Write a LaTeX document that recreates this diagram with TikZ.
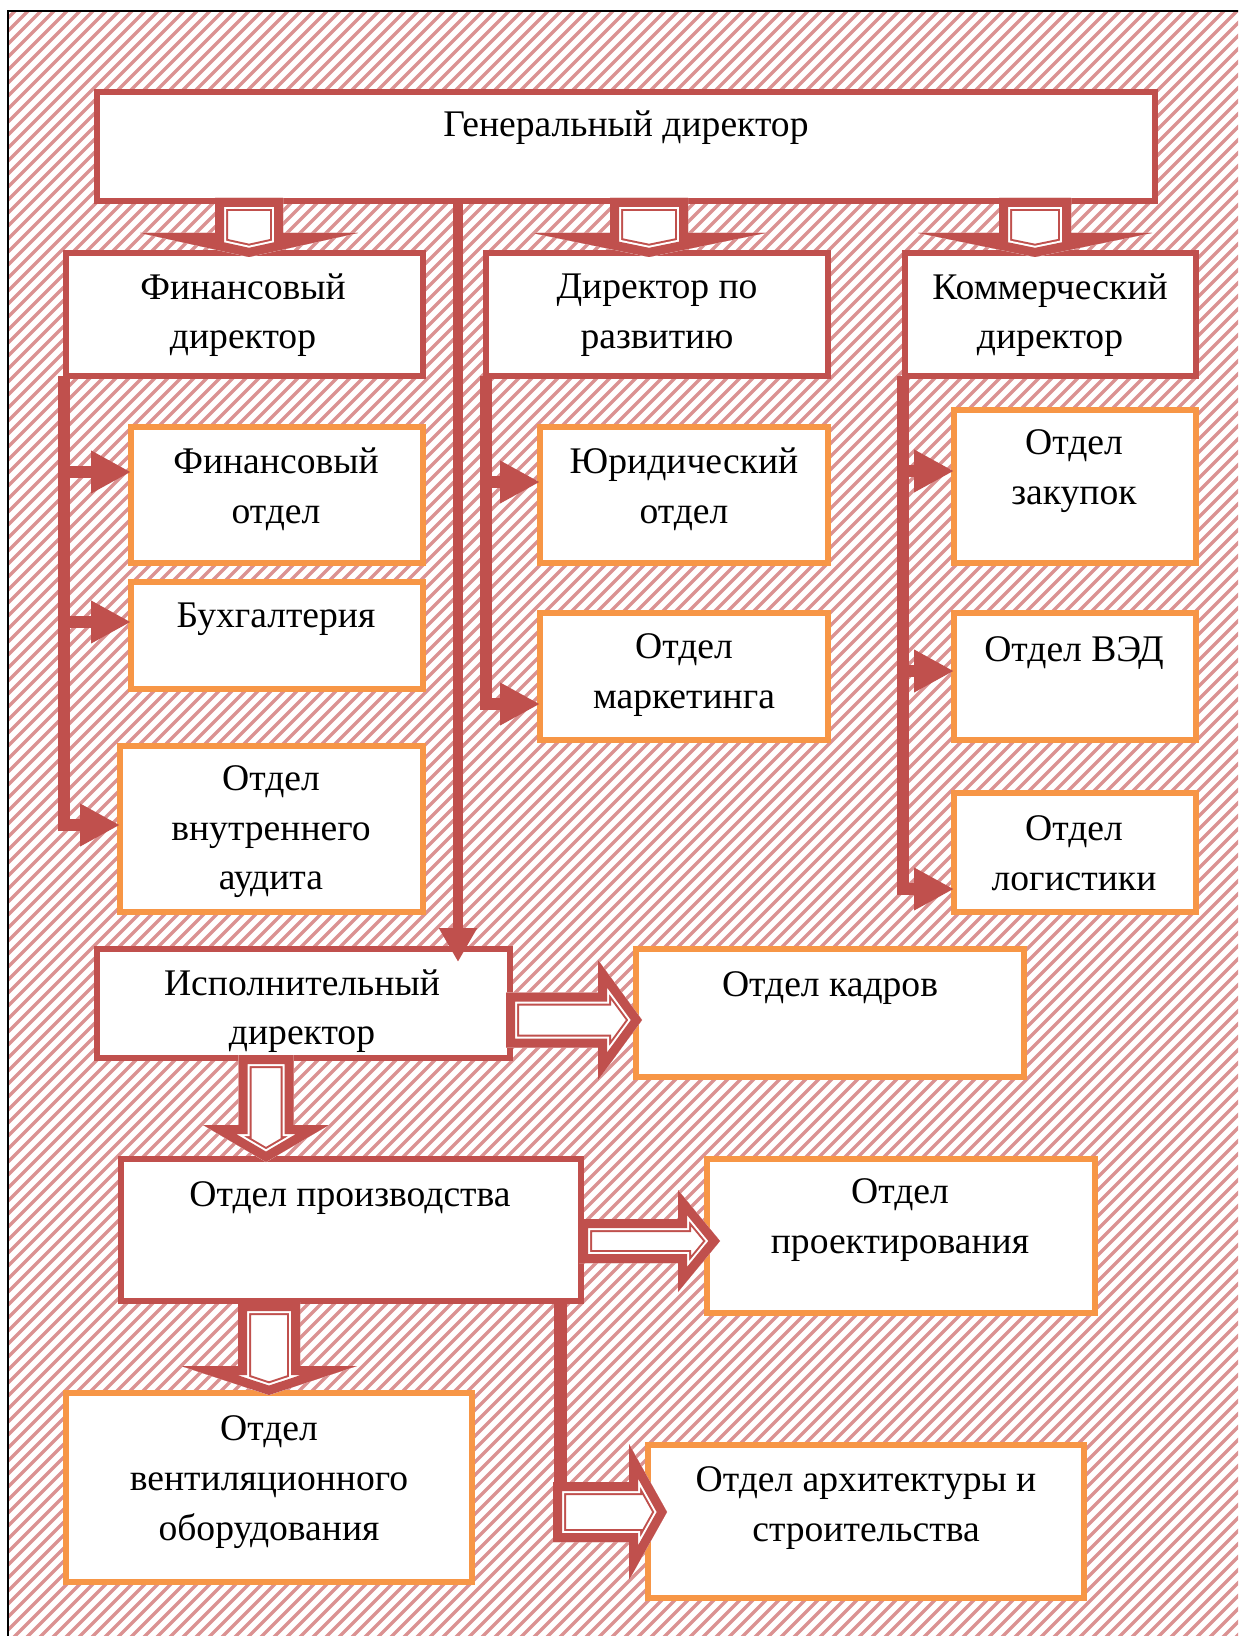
\documentclass[tikz,border=0pt]{standalone}
\usepackage{fontspec}
\setmainfont{Liberation Serif}
\usetikzlibrary{arrows.meta,calc,fit}

\definecolor{accred}{RGB}{192,80,77}
\definecolor{accorange}{RGB}{247,150,70}
\definecolor{hatchpink}{RGB}{219,146,146}

\tikzset{
  redbox/.style={draw=accred, line width=3pt, fill=white, inner sep=0pt, outer sep=0pt},
  orbox/.style={draw=accorange, line width=3pt, fill=white, inner sep=0pt, outer sep=0pt},
  txt/.style={align=center, font=\fontsize{18.8pt}{24.8pt}\selectfont, inner sep=0pt},
  blockarr/.style={fill=white, postaction={draw=accred, line width=13pt},
    postaction={draw=white, line width=11pt}, postaction={draw=accred, line width=9pt}},
  branch/.style={draw=accred, line width=6pt, -{Triangle[length=20pt,width=20pt]}},
  mainline/.style={draw=accred, line width=5pt, -{Triangle[length=17pt,width=18pt]}},
}

\begin{document}
\begin{tikzpicture}[x=0.5pt,y=-0.5pt]
    \clip (0,0) rectangle (1238,1636);
    \fill[white] (0,0) rectangle (1238,1636);
    % hatched page background
    \begin{scope}
        \clip (8,11) rectangle (1238,1636);
        \foreach \c in {0,13,...,2900}
            \draw[hatchpink, line width=1.7pt] (\c,0) -- (\c-1700,1700);
    \end{scope}
    \draw[line width=1pt] (8,1640) -- (8,11) -- (1240,11);

    % boxes
    \node[redbox, fit={(97,92) (1155,201)}] (gen) {};
    \node[redbox, fit={(66,253) (423,376)}] (fd) {};
    \node[redbox, fit={(486,253) (828,376)}] (rd) {};
    \node[redbox, fit={(905,253) (1196,376)}] (kd) {};
    \node[orbox, fit={(131,427) (423,563)}] (fo) {};
    \node[orbox, fit={(131,582) (423,689)}] (buh) {};
    \node[orbox, fit={(120,746) (423,912)}] (aud) {};
    \node[orbox, fit={(540,427) (828,563)}] (yur) {};
    \node[orbox, fit={(540,613) (828,740)}] (mark) {};
    \node[orbox, fit={(954,410) (1196,563)}] (zak) {};
    \node[orbox, fit={(954,613) (1196,740)}] (ved) {};
    \node[orbox, fit={(954,793) (1196,912)}] (log) {};
    \node[redbox, fit={(97,949) (510,1058)}] (isp) {};
    \node[orbox, fit={(636,949) (1024,1077)}] (kadr) {};
    \node[redbox, fit={(121,1159) (581,1301)}] (proizv) {};
    \node[orbox, fit={(707,1159) (1095,1313)}] (proekt) {};
    \node[orbox, fit={(66,1393) (472,1582)}] (vent) {};
    \node[orbox, fit={(648,1445) (1084,1598)}] (arch) {};

    % labels
    \node[txt] (gen-t) at (626,128) {Генеральный директор};
    \node[txt] (fd-t) at (243,315) {Финансовый\\директор};
    \node[txt] (rd-t) at (657,315) {Директор по\\развитию};
    \node[txt] (kd-t) at (1050,315) {Коммерческий\\директор};
    \node[txt] (fo-t) at (276,489) {Финансовый\\отдел};
    \node[txt] (buh-t) at (276,619) {Бухгалтерия};
    \node[txt] (aud-t) at (271,832) {Отдел\\внутреннего\\аудита};
    \node[txt] (yur-t) at (684,489) {Юридический\\отдел};
    \node[txt] (mark-t) at (684,675) {Отдел\\маркетинга};
    \node[txt] (zak-t) at (1074,471) {Отдел\\закупок};
    \node[txt] (ved-t) at (1074,653) {Отдел ВЭД};
    \node[txt] (log-t) at (1074,853) {Отдел\\логистики};
    \node[txt] (isp-t) at (302,1011) {Исполнительный\\директор};
    \node[txt] (kadr-t) at (830,988) {Отдел кадров};
    \node[txt] (proizv-t) at (350,1198) {Отдел производства};
    \node[txt] (proekt-t) at (900,1220) {Отдел\\проектирования};
    \node[txt] (vent-t) at (269,1482) {Отдел\\вентиляционного\\оборудования};
    \node[txt] (arch-t) at (866,1508) {Отдел архитектуры и\\строительства};

    % bent bar from production down to architecture
    \draw[accred, line width=6.5pt] ($(proizv.south east)+(-21,0)$) -- ++(0,241);

    % block arrows (down, then right)
    \foreach \cx/\w/\h/\yo/\yb/\yt in {249/34/109/198/233/257, 649/39/117/198/233/257,
            1035/36/117/198/233/257, 266/27.5/63/1055/1125/1162, 269/31/88/1302/1366/1395} {
        \begin{scope}
            \clip (\cx-\w,\yo) -- (\cx+\w,\yo) -- (\cx+\w,\yb) -- (\cx+\h,\yb)
                -- (\cx,\yt) -- (\cx-\h,\yb) -- (\cx-\w,\yb) -- cycle;
            \path[blockarr] (\cx-\w,\yo) -- (\cx+\w,\yo) -- (\cx+\w,\yb) -- (\cx+\h,\yb)
                -- (\cx,\yt) -- (\cx-\h,\yb) -- (\cx-\w,\yb) -- cycle;
        \end{scope}
    }
    \foreach \cy/\w/\h/\xo/\xb/\xt in {1020/27.5/60/506/598/642, 1241/22/51/579/678/720,
            1512/30/68/553/629/667} {
        \begin{scope}
            \clip (\xo,\cy-\w) -- (\xb,\cy-\w) -- (\xb,\cy-\h) -- (\xt,\cy)
                -- (\xb,\cy+\h) -- (\xb,\cy+\w) -- (\xo,\cy+\w) -- cycle;
            \path[blockarr] (\xo,\cy-\w) -- (\xb,\cy-\w) -- (\xb,\cy-\h) -- (\xt,\cy)
                -- (\xb,\cy+\h) -- (\xb,\cy+\w) -- (\xo,\cy+\w) -- cycle;
        \end{scope}
    }

    % main line down to the executive director
    \draw[mainline] ($(gen.south west)+(361,0)$) -- ($(isp.north west)+(361,13)$);

    % branches to the departments
    \coordinate (fbar) at ($(fd.south west)+(-2,0)$);
    \coordinate (rbar) at (rd.south west);
    \coordinate (kbar) at ($(kd.south west)+(-2,0)$);
    \coordinate (fo-in) at ($(fo.west)+(0,-23)$);
    \coordinate (buh-in) at ($(buh.west)+(0,-13.5)$);
    \coordinate (aud-in) at ($(aud.west)+(0,-4)$);
    \coordinate (yur-in) at ($(yur.west)+(0,-13)$);
    \coordinate (mark-in) at ($(mark.west)+(0,27.5)$);
    \coordinate (zak-in) at ($(zak.west)+(0,-15.5)$);
    \coordinate (ved-in) at ($(ved.west)+(0,-5.5)$);
    \coordinate (log-in) at ($(log.west)+(0,36.5)$);
    \draw[branch] (fbar) |- (aud-in);
    \draw[branch] (fbar |- fo-in) -- (fo-in);
    \draw[branch] (fbar |- buh-in) -- (buh-in);
    \draw[branch] (rbar) |- (mark-in);
    \draw[branch] (rbar |- yur-in) -- (yur-in);
    \draw[branch] (kbar) |- (log-in);
    \draw[branch] (kbar |- zak-in) -- (zak-in);
    \draw[branch] (kbar |- ved-in) -- (ved-in);
\end{tikzpicture}
\end{document}
